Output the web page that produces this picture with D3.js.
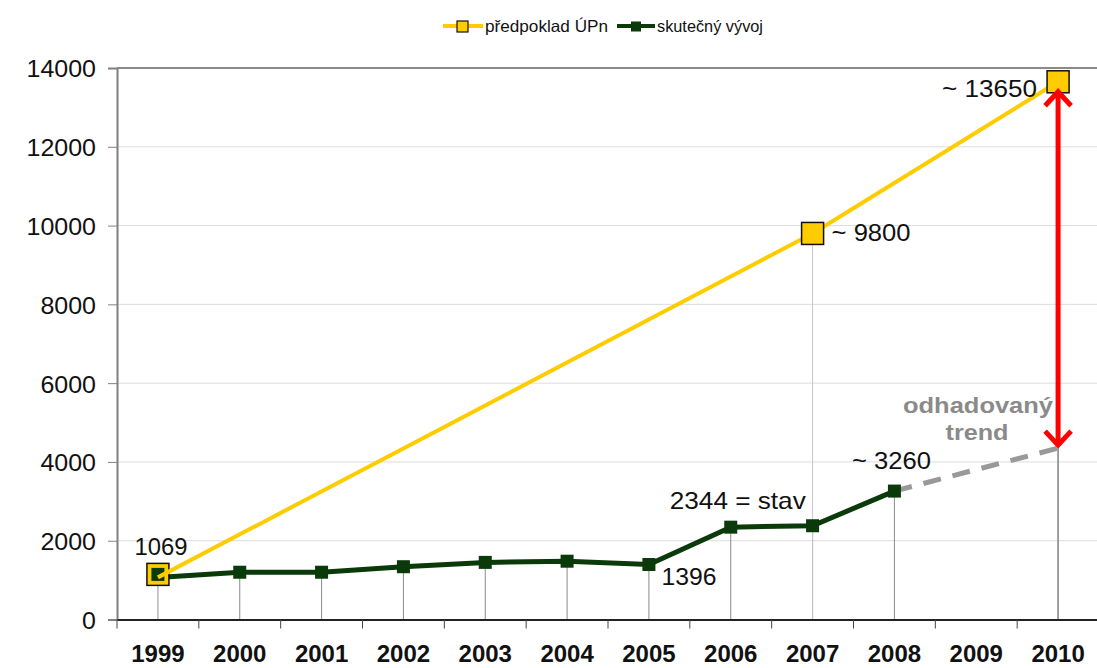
<!DOCTYPE html>
<html>
<head>
<meta charset="utf-8">
<script src="https://cdn.jsdelivr.net/npm/d3@7"></script>
<style>
  html, body { margin: 0; padding: 0; background: #fff; }
  svg { display: block; }
  text { font-family: "Liberation Sans", Arial, sans-serif; }
</style>
</head>
<body>
<script>
// ---- data ----
const years = ['1999','2000','2001','2002','2003','2004','2005','2006','2007','2008','2009','2010'];
const planYears = ['1999','2007','2010'];
const planValues = [1069, 9800, 13650];
const actualYears = ['1999','2000','2001','2002','2003','2004','2005','2006','2007','2008'];
const actualValues = [1069, 1200, 1200, 1340, 1450, 1480, 1396, 2344, 2380, 3260];
const trendYears = ['2008','2010'];
const trendValues = [3260, 4350];
const yTicks = [0, 2000, 4000, 6000, 8000, 10000, 12000, 14000];
const legendLabels = ['předpoklad ÚPn', 'skutečný vývoj'];
const trendLabel = ['odhadovaný', 'trend'];

// ---- setup ----
const W = 1097, H = 668;
const svg = d3.select('body').append('svg').attr('width', W).attr('height', H);

const x = d3.scaleBand().domain(years).range([117, 1099]);
const cx = d => x(d) + x.bandwidth() / 2;
const y = d3.scaleLinear().domain([0, 14000]).range([619.5, 68]);

const YELLOW = '#FFCC00', GREEN = '#0a3a0a', RED = '#ff0000';

const plan = planYears.map((d, i) => ({ year: d, value: planValues[i] }));
const actual = actualYears.map((d, i) => ({ year: d, value: actualValues[i] }));
const trend = trendYears.map((d, i) => ({ year: d, value: trendValues[i] }));

// gridlines
svg.append('g').selectAll('line').data(yTicks.filter(v => v > 0)).join('line')
  .attr('x1', 117).attr('x2', W)
  .attr('y1', d => y(d)).attr('y2', d => y(d))
  .attr('stroke', d => d === 14000 ? '#8a8a8a' : '#dcdcdc')
  .attr('stroke-width', d => d === 14000 ? 2 : 1);

// drop lines
const drops = svg.append('g');
drops.selectAll('line.a').data(actual).join('line').attr('class', 'a')
  .attr('x1', d => cx(d.year)).attr('x2', d => cx(d.year))
  .attr('y1', d => y(d.value)).attr('y2', y(0))
  .attr('stroke', '#8a8a8a').attr('stroke-width', 1);
drops.selectAll('line.p').data(plan).join('line').attr('class', 'p')
  .attr('x1', d => cx(d.year)).attr('x2', d => cx(d.year))
  .attr('y1', d => y(d.value)).attr('y2', y(0))
  .attr('stroke', '#c8c8c8').attr('stroke-width', 1);
drops.append('line')
  .attr('x1', cx(trend[1].year)).attr('x2', cx(trend[1].year))
  .attr('y1', y(trend[1].value)).attr('y2', y(0))
  .attr('stroke', '#8a8a8a').attr('stroke-width', 1.5);

// y axis
const yAxis = d3.axisLeft(y).tickValues(yTicks).tickSize(9).tickPadding(12).tickFormat(d3.format('d'));
const gy = svg.append('g').attr('transform', 'translate(117,0)').call(yAxis);
gy.select('.domain').attr('stroke', '#808080').attr('stroke-width', 2);
gy.selectAll('.tick line').attr('stroke', '#808080');
gy.selectAll('.tick text').attr('font-size', 24).attr('fill', '#111')
  .attr('font-family', '"Liberation Sans", Arial, sans-serif').attr('dy', '0.37em')
  .attr('textLength', d => String(d).length * 13.9).attr('lengthAdjust', 'spacingAndGlyphs');

// x axis
const xAxis = d3.axisBottom(x).tickSize(0).tickPadding(0);
const gx = svg.append('g').attr('transform', `translate(0,${y(0)})`).call(xAxis);
gx.select('.domain').attr('stroke', '#222').attr('stroke-width', 2);
gx.selectAll('.tick text').attr('font-size', 24).attr('font-weight', 'bold').attr('fill', '#111')
  .attr('font-family', '"Liberation Sans", Arial, sans-serif').attr('y', 42).attr('dy', 0);
// boundary ticks
svg.append('g').selectAll('line').data(years).join('line')
  .attr('x1', d => x(d)).attr('x2', d => x(d))
  .attr('y1', y(0)).attr('y2', y(0) + 9)
  .attr('stroke', '#444').attr('stroke-width', 1);

// trend (dashed)
const line = d3.line().x(d => cx(d.year)).y(d => y(d.value));
svg.append('path').datum(trend).attr('d', line)
  .attr('fill', 'none').attr('stroke', '#999').attr('stroke-width', 5)
  .attr('stroke-dasharray', '18,12');

// actual line
svg.append('path').datum(actual).attr('d', line)
  .attr('fill', 'none').attr('stroke', GREEN).attr('stroke-width', 5);

// yellow marker at first point (under green marker)
const ysz = 22;
svg.append('rect').datum(plan[0])
  .attr('x', d => cx(d.year) - ysz / 2).attr('y', d => y(d.value) - ysz / 2 - 3)
  .attr('width', ysz).attr('height', ysz)
  .attr('fill', YELLOW).attr('stroke', '#111').attr('stroke-width', 1.5);

// green markers
const gsz = 13;
svg.append('g').selectAll('rect').data(actual).join('rect')
  .attr('x', d => cx(d.year) - gsz / 2).attr('y', d => y(d.value) - gsz / 2 - (d.year === '1999' ? 3 : 0))
  .attr('width', gsz).attr('height', gsz)
  .attr('fill', GREEN);

// plan line
svg.append('path').datum(plan).attr('d', line)
  .attr('fill', 'none').attr('stroke', YELLOW).attr('stroke-width', 4);

// plan markers (later points)
svg.append('g').selectAll('rect').data(plan.slice(1)).join('rect')
  .attr('x', d => cx(d.year) - ysz / 2).attr('y', d => y(d.value) - ysz / 2)
  .attr('width', ysz).attr('height', ysz)
  .attr('fill', YELLOW).attr('stroke', '#111').attr('stroke-width', 1.5);

// red double arrow
const ax = cx('2010');
const aTop = y(plan[2].value) + 8, aBot = y(trend[1].value) - 1;
const red = svg.append('g').attr('stroke', RED).attr('fill', 'none').attr('stroke-width', 5)
  .attr('stroke-linecap', 'butt').attr('stroke-linejoin', 'miter');
red.append('line').attr('x1', ax).attr('x2', ax).attr('y1', aTop + 2).attr('y2', aBot - 2);
red.append('path').attr('d', `M${ax - 13},${aTop + 16}L${ax},${aTop + 2}L${ax + 13},${aTop + 16}`);
red.append('path').attr('d', `M${ax - 13},${aBot - 16}L${ax},${aBot - 2}L${ax + 13},${aBot - 16}`);

// annotations
function label(txt, px, py, anchor, len, opts = {}) {
  svg.append('text').text(txt)
    .attr('x', px).attr('y', py)
    .attr('text-anchor', anchor)
    .attr('font-size', opts.size || 24)
    .attr('font-weight', opts.weight || 'normal')
    .attr('fill', opts.fill || '#111')
    .attr('textLength', len).attr('lengthAdjust', 'spacingAndGlyphs');
}
label(String(actualValues[0]), cx('1999') + 3, y(actualValues[0]) - 22, 'middle', 53);
label('~ ' + planValues[2], cx('2010') - 21, y(planValues[2]) + 15, 'end', 95);
label('~ ' + planValues[1], cx('2007') + 19, y(planValues[1]) + 8, 'start', 79);
label(actualValues[7] + ' = stav', cx('2006') + 7, y(actualValues[7]) - 18, 'middle', 136);
label('~ ' + actualValues[9], cx('2008') - 3, y(actualValues[9]) - 22, 'middle', 79);
label(String(actualValues[6]), cx('2005') + 40, y(actualValues[6]) + 20, 'middle', 55);
label(trendLabel[0], 978, 413, 'middle', 150, { weight: 'bold', fill: '#8a8a8a', size: 22 });
label(trendLabel[1], 977, 440, 'middle', 63, { weight: 'bold', fill: '#8a8a8a', size: 22 });

// legend
const lg = svg.append('g');
lg.append('line').attr('x1', 443).attr('x2', 483).attr('y1', 26).attr('y2', 26)
  .attr('stroke', YELLOW).attr('stroke-width', 4);
lg.append('rect').attr('x', 457).attr('y', 21).attr('width', 11).attr('height', 11)
  .attr('fill', YELLOW).attr('stroke', '#111').attr('stroke-width', 1.2);
lg.append('text').text(legendLabels[0]).attr('x', 485).attr('y', 32).attr('font-size', 16.5).attr('fill', '#111')
  .attr('textLength', 123).attr('lengthAdjust', 'spacingAndGlyphs');
lg.append('line').attr('x1', 617).attr('x2', 655).attr('y1', 26).attr('y2', 26)
  .attr('stroke', GREEN).attr('stroke-width', 4);
lg.append('rect').attr('x', 631).attr('y', 21.5).attr('width', 10).attr('height', 10)
  .attr('fill', GREEN);
lg.append('text').text(legendLabels[1]).attr('x', 657).attr('y', 32).attr('font-size', 16.5).attr('fill', '#111')
  .attr('textLength', 106).attr('lengthAdjust', 'spacingAndGlyphs');
</script>
</body>
</html>
